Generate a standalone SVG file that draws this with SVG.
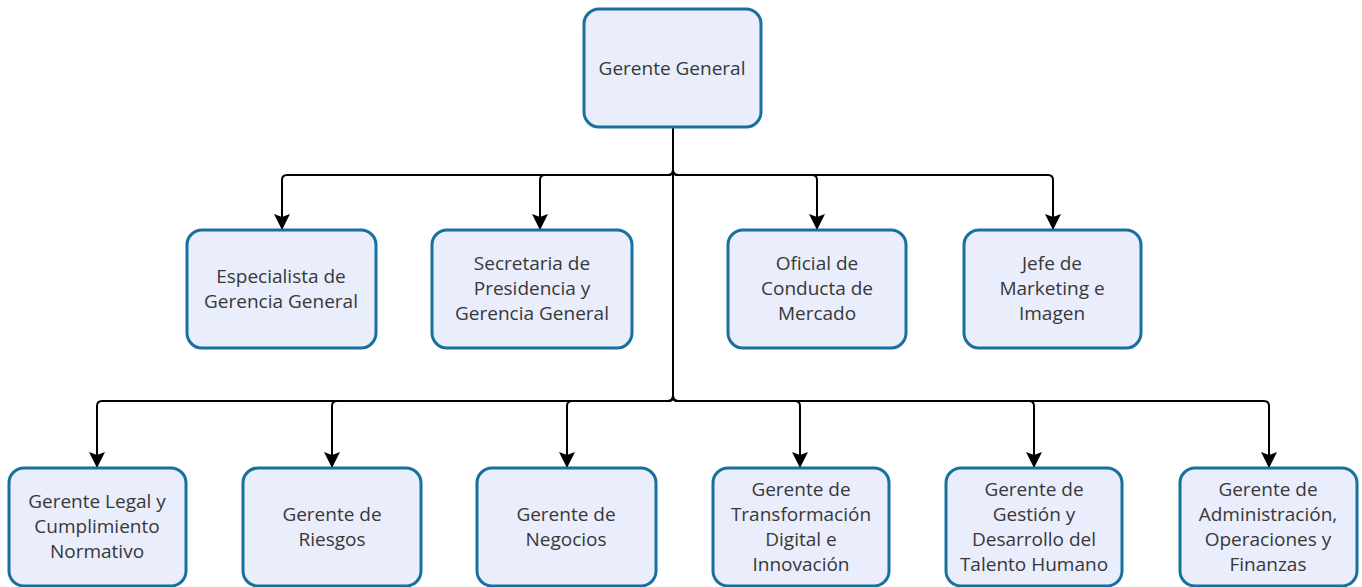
<svg xmlns="http://www.w3.org/2000/svg" width="1362" height="587" viewBox="0 0 1362 587">
<defs>
<style>
.box{fill:#e9edfc;stroke:#17709e;stroke-width:3}
.t{font-family:"Open Sans","Noto Sans","DejaVu Sans",sans-serif;font-size:19px;fill:#383838;text-anchor:middle}
.c{fill:none;stroke:#000;stroke-width:2}
</style>
<marker id="ah" viewBox="0 0 16 16" refX="15" refY="8" markerWidth="16" markerHeight="16" markerUnits="userSpaceOnUse" orient="auto">
<path d="M0,0 L16,8 L0,16 L3,8 Z" fill="#000"/>
</marker>
</defs>
<rect width="1362" height="587" fill="#fff"/>
<g id="connectors">
<path class="c" d="M673,127 V170 Q673,175 668,175 H287 Q282,175 282,180 V229" marker-end="url(#ah)"/>
<path class="c" d="M673,127 V170 Q673,175 668,175 H545 Q540,175 540,180 V229" marker-end="url(#ah)"/>
<path class="c" d="M673,127 V170 Q673,175 678,175 H812 Q817,175 817,180 V229" marker-end="url(#ah)"/>
<path class="c" d="M673,127 V170 Q673,175 678,175 H1048 Q1053,175 1053,180 V229" marker-end="url(#ah)"/>
<path class="c" d="M673,127 V396 Q673,401 668,401 H102 Q97,401 97,406 V467" marker-end="url(#ah)"/>
<path class="c" d="M673,127 V396 Q673,401 668,401 H337 Q332,401 332,406 V467" marker-end="url(#ah)"/>
<path class="c" d="M673,127 V396 Q673,401 668,401 H572 Q567,401 567,406 V467" marker-end="url(#ah)"/>
<path class="c" d="M673,127 V396 Q673,401 678,401 H795 Q800,401 800,406 V467" marker-end="url(#ah)"/>
<path class="c" d="M673,127 V396 Q673,401 678,401 H1029 Q1034,401 1034,406 V467" marker-end="url(#ah)"/>
<path class="c" d="M673,127 V396 Q673,401 678,401 H1264 Q1269,401 1269,406 V467" marker-end="url(#ah)"/>
</g>
<g id="n0"><rect class="box" x="584" y="9" width="177" height="118" rx="15"/><text class="t" x="672" y="75">Gerente General</text></g>
<g id="n1"><rect class="box" x="187" y="230" width="189" height="118" rx="15"/><text class="t" x="281" y="283">Especialista de</text><text class="t" x="281" y="308">Gerencia General</text></g>
<g id="n2"><rect class="box" x="432" y="230" width="200" height="118" rx="15"/><text class="t" x="532" y="270">Secretaria de</text><text class="t" x="532" y="295">Presidencia y</text><text class="t" x="532" y="320">Gerencia General</text></g>
<g id="n3"><rect class="box" x="728" y="230" width="178" height="118" rx="15"/><text class="t" x="817" y="270">Oficial de</text><text class="t" x="817" y="295">Conducta de</text><text class="t" x="817" y="320">Mercado</text></g>
<g id="n4"><rect class="box" x="964" y="230" width="177" height="118" rx="15"/><text class="t" x="1052" y="270">Jefe de</text><text class="t" x="1052" y="295">Marketing e</text><text class="t" x="1052" y="320">Imagen</text></g>
<g id="n5"><rect class="box" x="9" y="468" width="177" height="118" rx="15"/><text class="t" x="97" y="508">Gerente Legal y</text><text class="t" x="97" y="533">Cumplimiento</text><text class="t" x="97" y="558">Normativo</text></g>
<g id="n6"><rect class="box" x="243" y="468" width="178" height="118" rx="15"/><text class="t" x="332" y="521">Gerente de</text><text class="t" x="332" y="546">Riesgos</text></g>
<g id="n7"><rect class="box" x="477" y="468" width="179" height="118" rx="15"/><text class="t" x="566" y="521">Gerente de</text><text class="t" x="566" y="546">Negocios</text></g>
<g id="n8"><rect class="box" x="713" y="468" width="176" height="118" rx="15"/><text class="t" x="801" y="496">Gerente de</text><text class="t" x="801" y="521">Transformación</text><text class="t" x="801" y="546">Digital e</text><text class="t" x="801" y="571">Innovación</text></g>
<g id="n9"><rect class="box" x="946" y="468" width="176" height="118" rx="15"/><text class="t" x="1034" y="496">Gerente de</text><text class="t" x="1034" y="521">Gestión y</text><text class="t" x="1034" y="546">Desarrollo del</text><text class="t" x="1034" y="571">Talento Humano</text></g>
<g id="n10"><rect class="box" x="1180" y="468" width="177" height="118" rx="15"/><text class="t" x="1268" y="496">Gerente de</text><text class="t" x="1268" y="521">Administración,</text><text class="t" x="1268" y="546">Operaciones y</text><text class="t" x="1268" y="571">Finanzas</text></g>
</svg>
